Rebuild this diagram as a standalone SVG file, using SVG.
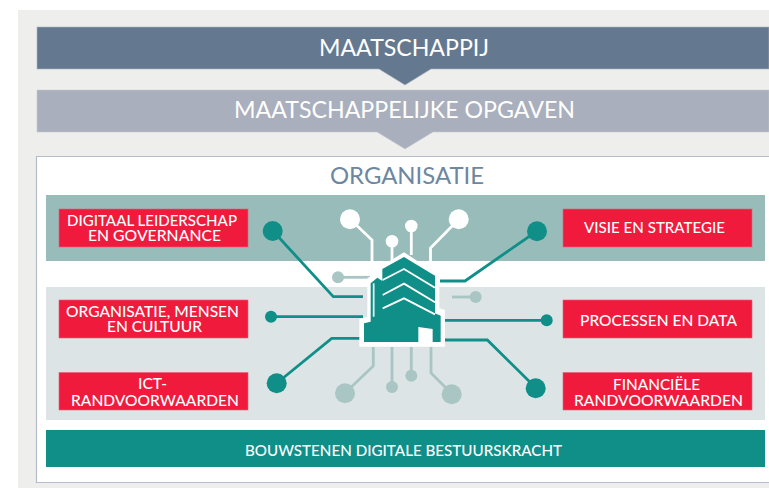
<svg xmlns="http://www.w3.org/2000/svg" width="769" height="488" viewBox="0 0 769 488">
<style>
text{font-family:"Lato","Open Sans","Liberation Sans",sans-serif;fill:#fff}
.big{font-size:24px}
.lab{font-size:15px;font-weight:500}
.red{fill:#f01a3c;stroke:#e8607a;stroke-width:.6}
.t{fill:none;stroke:#0f8f88;stroke-width:2.8}
.w{fill:none;stroke:#fff;stroke-width:2.8}
.l{fill:none;stroke:#a9c6c5;stroke-width:2.8}
.ct{fill:#0f8f88}.cw{fill:#fff}.cl{fill:#a9c6c5}
</style>
<rect x="18" y="10" width="751" height="478" fill="#eeeeec"/>
<g id="maatschappij">
<path d="M37 27H769V69H431L405 85L379 69H37Z" fill="#64798f" stroke="#a8b1bd" stroke-width=".6"/>
<text class="big" x="319" y="56" textLength="170" lengthAdjust="spacingAndGlyphs">MAATSCHAPPIJ</text>
</g>
<g id="opgaven">
<path d="M37 90H769V132H433L405 149L377 132H37Z" fill="#a9afbc" stroke="#c6cad2" stroke-width=".6"/>
<text class="big" x="234" y="118" textLength="341" lengthAdjust="spacingAndGlyphs">MAATSCHAPPELIJKE OPGAVEN</text>
</g>
<g id="organisatie">
<path d="M769 156.500H36.500V482.500H769" fill="#fff" stroke="#b5bccb" stroke-width="1.200"/>
<text class="big" x="330" y="184" textLength="154" lengthAdjust="spacingAndGlyphs" style="fill:#6d87a0">ORGANISATIE</text>
<rect x="46" y="195" width="719" height="66" fill="#97bcba"/>
<rect x="46" y="287" width="719" height="133" fill="#dce4e5"/>
</g>
<g id="connectors">
<path class="w" d="M350 219L372 240V275"/>
<path class="w" d="M392 241V262"/>
<path class="w" d="M411.300 226V255"/>
<path class="w" d="M459 219L430.500 248V270"/>
<path class="l" d="M338 277.300H370"/>
<path class="l" d="M476 297H452"/>
<path class="l" d="M345 393L373.300 366V347"/>
<path class="l" d="M392 387V347"/>
<path class="l" d="M411.300 376V347"/>
<path class="l" d="M452 394L431 373V347"/>
<path class="t" d="M273 231L333.300 296.700H363"/>
<path class="t" d="M271 316.700H363"/>
<path class="t" d="M277 383L331.700 338.300H360"/>
<path class="t" d="M537 231L465 281H440"/>
<path class="t" d="M547 320.300H445"/>
<path class="t" d="M536 388L487.300 340H445"/>
<g class="cw"><circle cx="350" cy="219.300" r="10"/><circle cx="392" cy="241.300" r="6.300"/><circle cx="411.300" cy="226" r="6.300"/><circle cx="458.700" cy="219.300" r="10"/></g>
<g class="cl"><circle cx="338" cy="277.300" r="6"/><circle cx="475.700" cy="297" r="6"/><circle cx="345" cy="393.300" r="10"/><circle cx="392" cy="387" r="6"/><circle cx="411.300" cy="375.700" r="6"/><circle cx="451.700" cy="394.300" r="10"/></g>
<g class="ct"><circle cx="272.700" cy="231" r="10"/><circle cx="271" cy="316.700" r="6"/><circle cx="276.700" cy="383.300" r="10"/><circle cx="537" cy="231.300" r="10"/><circle cx="546.700" cy="320.300" r="6"/><circle cx="535.700" cy="388.300" r="10"/></g>
</g>
<g id="gebouw" transform="translate(350 245) scale(.3333)">
<path d="M28 305V222L52 215V100L85 80L96 86V62L162 22L268 90V190L285 195V305Z" fill="#fff"/>
<path d="M42 291V235L62 230V115L82 98L97 108V72L162 36L255 92V205L272 212V291Z" fill="#0f8f88"/>
<g fill="none" stroke="#fff" stroke-width="5.500">
<path d="M98 105L162 72L255 128"/>
<path d="M98 150L162 116L255 172"/>
<path d="M98 190L162 160L255 208"/>
<path d="M71 115V215" stroke-width="5"/>
</g>
<path d="M205 300V246L248 252V300Z" fill="#fff"/>
</g>
<g id="digitaal-leiderschap"><rect class="red" x="59" y="209" width="189" height="38"/>
<text class="lab" x="67" y="226" textLength="170" lengthAdjust="spacingAndGlyphs">DIGITAAL LEIDERSCHAP</text>
<text class="lab" x="88" y="241" textLength="133" lengthAdjust="spacingAndGlyphs">EN GOVERNANCE</text></g>
<g id="organisatie-mensen"><rect class="red" x="59" y="300" width="189" height="38"/>
<text class="lab" x="66" y="317" textLength="173" lengthAdjust="spacingAndGlyphs">ORGANISATIE, MENSEN</text>
<text class="lab" x="107" y="332" textLength="95" lengthAdjust="spacingAndGlyphs">EN CULTUUR</text></g>
<g id="ict"><rect class="red" x="59" y="372.500" width="189" height="37.500"/>
<text class="lab" x="138" y="389" textLength="29" lengthAdjust="spacingAndGlyphs">ICT-</text>
<text class="lab" x="71" y="405.500" textLength="168" lengthAdjust="spacingAndGlyphs">RANDVOORWAARDEN</text></g>
<g id="visie"><rect class="red" x="563" y="209" width="189" height="38"/>
<text class="lab" x="584" y="233" textLength="141" lengthAdjust="spacingAndGlyphs">VISIE EN STRATEGIE</text></g>
<g id="processen"><rect class="red" x="563" y="300" width="189" height="38"/>
<text class="lab" x="580" y="325.500" textLength="157" lengthAdjust="spacingAndGlyphs">PROCESSEN EN DATA</text></g>
<g id="financieel"><rect class="red" x="563" y="372.500" width="189" height="37.500"/>
<text class="lab" x="613" y="390" textLength="87" lengthAdjust="spacingAndGlyphs">FINANCIËLE</text>
<text class="lab" x="574" y="406" textLength="169" lengthAdjust="spacingAndGlyphs">RANDVOORWAARDEN</text></g>
<g id="bouwstenen"><rect x="46" y="430" width="719" height="37" fill="#0f8f88"/>
<text class="lab" x="245" y="455.500" textLength="317" lengthAdjust="spacingAndGlyphs">BOUWSTENEN DIGITALE BESTUURSKRACHT</text></g>
</svg>
